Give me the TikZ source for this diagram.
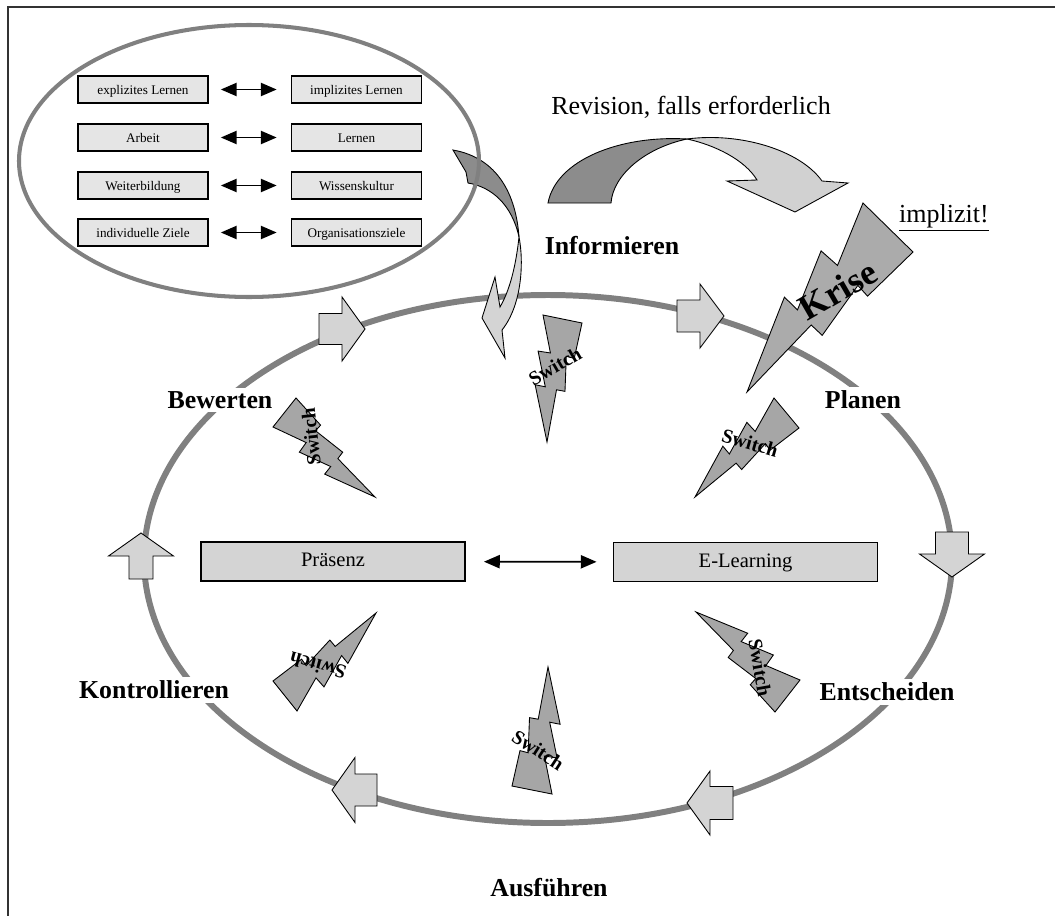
\documentclass[tikz,border=0pt]{standalone}
\usepackage{fontspec}
\setmainfont{Liberation Serif}
\usetikzlibrary{arrows.meta}
% lightning bolt through top corner (T), left corner (L) and tip (B)
\def\bolt[#1](#2,#3)(#4,#5)(#6,#7){%
	\foreach \u/\v [count=\i] in {0.3922/0, 0/0.1801, 0.3519/0.3881, 0.2325/0.4493, 0.5658/0.6434, 0.4635/0.6905, 1/1, 0.6837/0.5962, 0.7675/0.5559, 0.5116/0.3147, 0.5954/0.2815}{%
		\pgfmathsetmacro\wB{(2.5497*\u+5.5525*\v-1)/7.1022}%
		\pgfmathsetmacro\wT{(\u-\wB)/0.3922}%
		\pgfmathsetmacro\wL{1-\wT-\wB}%
		\coordinate (bp\i) at ({\wT*#2+\wL*#4+\wB*#6},{\wT*#3+\wL*#5+\wB*#7});
	}%
	\draw[#1] (bp1) -- (bp2) -- (bp3) -- (bp4) -- (bp5) -- (bp6) -- (bp7) -- (bp8) -- (bp9) -- (bp10) -- (bp11) -- cycle;
}

\begin{document}
\begin{tikzpicture}[x=0.02cm,y=-0.02cm,
	ring/.style={color=black!50},
	pairbox/.style={draw=black,line width=1pt,fill=black!10,minimum width=2.6cm,minimum height=0.54cm,inner sep=0pt,text height=1.6ex,text depth=0.35ex,font=\fontsize{7.5}{9}\selectfont},
	modebox/.style={draw=black,line width=1.1pt,fill=black!17,minimum width=5.28cm,minimum height=0.78cm,inner sep=0pt,text height=1.6ex,text depth=0.35ex,font=\fontsize{11.7}{14}\selectfont},
	stage/.style={fill=white,inner sep=2pt,font=\bfseries\fontsize{14.7}{17}\selectfont},
	swap/.style={{Triangle[length=9pt,width=7.5pt]}-{Triangle[length=9pt,width=7.5pt]},line width=1pt},
	cyclearrow/.style={draw=black,line width=0.5pt,fill=black!17},
	switchbolt/.style={draw=black,line width=0.5pt,fill=black!35},
	switchtext/.style={font=\bfseries\fontsize{11.3}{13}\selectfont,inner sep=0pt}]
		%%%%% START %%%%%
		\useasboundingbox (0,0) rectangle (1055,916);
		\draw[line width=0.8pt, color=black!80] (8,916) -- (8,7) -- (1055,7);
		
		% cycle
		\draw[ring, line width=3.4pt] (548,559) ellipse (404 and 264);
		
		% from the goals into the cycle
		\draw[draw=black, line width=0.5pt, fill=black!45] (453,150) -- (466,172) -- (468,183) .. controls (492,187) and (512,205) .. (519,237) .. controls (516,195) and (498,158) .. cycle;
		\draw[draw=black, line width=0.5pt, fill=black!17] (519,237) .. controls (524,262) and (522,305) .. (502,330) -- (505,358) -- (482,318) -- (495,277) -- (500,307) .. controls (510,290) and (516,265) .. cycle;
		
		% goals
		\draw[ring, line width=2.3pt] (249,161) ellipse (230 and 136);
		\node[pairbox] (expl) at (143,89.5) {explizites Lernen};
		\node[pairbox] (impl) at (356.5,89.5) {implizites Lernen};
		\node[pairbox] (arbeit) at (143,137.5) {Arbeit};
		\node[pairbox] (lernen) at (356.5,137.5) {Lernen};
		\node[pairbox] (weiter) at (143,185.5) {Weiterbildung};
		\node[pairbox] (kultur) at (356.5,185.5) {Wissenskultur};
		\node[pairbox] (indiv) at (143,232.5) {individuelle Ziele};
		\node[pairbox] (orga) at (356.5,232.5) {Organisationsziele};
		\draw[swap, shorten <=0.24cm, shorten >=0.28cm] (expl) -- (impl);
		\draw[swap, shorten <=0.24cm, shorten >=0.28cm] (arbeit) -- (lernen);
		\draw[swap, shorten <=0.24cm, shorten >=0.28cm] (weiter) -- (kultur);
		\draw[swap, shorten <=0.24cm, shorten >=0.28cm] (indiv) -- (orga);
		
		% revision
		\node[anchor=base, font=\fontsize{14.8}{17}\selectfont] (revision) at (691,114) {Revision, falls erforderlich};
		\draw[draw=black, line width=0.5pt, fill=black!45] (548,203) .. controls (556,160) and (620,135) .. (687,139) .. controls (645,148) and (613,175) .. (611,203) -- cycle;
		\draw[draw=black, line width=0.5pt, fill=black!18] (687,139) .. controls (740,132) and (800,150) .. (822,181) -- (848,183) -- (795,212) -- (727,181) -- (757,180) .. controls (745,160) and (715,145) .. cycle;
		
		% crisis
		\bolt[draw=black, line width=0.5pt, fill=black!33](913,252)(863,203)(747,392);
		\node[rotate=30, font=\bfseries\fontsize{20.4}{24}\selectfont, inner sep=0pt] (krise) at (838,290) {Krise};
		\node[anchor=base, font=\fontsize{14.8}{17}\selectfont] (implizit) at (944,222) {\underline{implizit!}};
		
		% arrows on the cycle
		\draw[cyclearrow, shift={(319,329)}] (0,-15.5) -- (23,-15.5) -- (23,-32) -- (46,0) -- (23,32) -- (23,15.5) -- (0,15.5) -- cycle;
		\draw[cyclearrow, shift={(677,316)}] (0,-16) -- (23,-16) -- (23,-32) -- (47,0) -- (23,32) -- (23,16) -- (0,16) -- cycle;
		\draw[cyclearrow, shift={(952,532)}, rotate=-90] (0,-16.5) -- (22,-16.5) -- (22,-32.5) -- (45,0) -- (22,32.5) -- (22,16.5) -- (0,16.5) -- cycle;
		\draw[cyclearrow, shift={(733,803)}, rotate=180] (0,-16.5) -- (23,-16.5) -- (23,-32) -- (46,0) -- (23,32) -- (23,16.5) -- (0,16.5) -- cycle;
		\draw[cyclearrow, shift={(377,790)}, rotate=180] (0,-16) -- (22,-16) -- (22,-32.5) -- (45,0) -- (22,32.5) -- (22,16) -- (0,16) -- cycle;
		\draw[cyclearrow, shift={(141,579)}, rotate=90] (0,-12) -- (23,-12) -- (23,-32.5) -- (46,0) -- (23,32.5) -- (23,12) -- (0,12) -- cycle;
		
		% stages
		\node[stage] (informieren) at (612,246) {Informieren};
		\node[stage] (planen) at (863,400) {Planen};
		\node[stage] (entscheiden) at (887,692) {Entscheiden};
		\node[stage] (ausfuehren) at (549,888) {Ausführen};
		\node[stage] (kontrollieren) at (154,690) {Kontrollieren};
		\node[stage] (bewerten) at (220,400) {Bewerten};
		
		% switches
		\bolt[switchbolt](582,323)(543,315)(547,442);
		\node[switchtext, rotate=30] (sw1) at (555,366) {Switch};
		\bolt[switchbolt](296,398)(273,427)(375,497);
		\node[switchtext, rotate=96] (sw2) at (311,437) {Switch};
		\bolt[switchbolt](799,428)(774,398)(695,497);
		\node[switchtext, rotate=-16] (sw3) at (750,443) {Switch};
		\bolt[switchbolt](775,712)(800,680)(696,612);
		\node[switchtext, rotate=-80] (sw4) at (760,668) {Switch};
		\bolt[switchbolt](273,681)(297,711)(376,613);
		\node[switchtext, rotate=165] (sw5) at (318,666) {Switch};
		\bolt[switchbolt](512,786)(552,794)(548,667);
		\node[switchtext, rotate=-33] (sw6) at (538,750) {Switch};
		
		% modes
		\node[modebox] (praesenz) at (333,561.5) {Präsenz};
		\node[modebox] (elearning) at (745.5,562) {E-Learning};
		\draw[swap, shorten <=0.36cm, shorten >=0.32cm] (praesenz) -- (elearning);
		%%%%% END %%%%%
\end{tikzpicture}
\end{document}
